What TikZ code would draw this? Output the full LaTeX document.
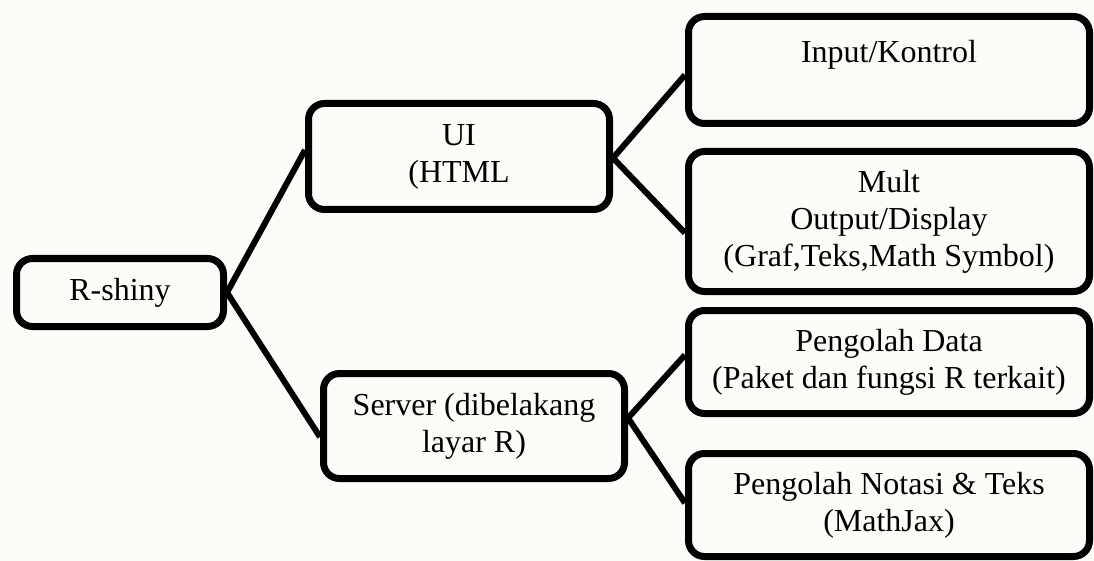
\documentclass[tikz,border=0pt]{standalone}
\usepackage{fontspec}
\setmainfont{Liberation Serif}
\definecolor{bgcol}{RGB}{252,252,248}
\begin{document}
\begin{tikzpicture}[x=1pt,y=-1pt,
  box/.style={draw=black, line width=7pt, rounded corners=16pt, align=center,
    inner sep=0pt, font=\fontsize{32}{37}\selectfont},
  link/.style={draw=black, line width=6pt}]
\fill[bgcol] (0,0) rectangle (1094,561);
\useasboundingbox (0,0) rectangle (1094,561);
\node[box, minimum width=207pt, minimum height=68pt] (rs) at (120,292.5) {R-shiny};
\node[box, minimum width=301pt, minimum height=106pt] (ui) at (459,156.5) {UI\\(HTML};
\node[box, minimum width=301pt, minimum height=105pt] (srv) at (474,426) {Server (dibelakang\\layar R)};
\node[box, minimum width=401pt, minimum height=107pt] (inp) at (889,70) {Input/Kontrol\\~};
\node[box, minimum width=401pt, minimum height=140pt] (mult) at (889,221.5) {Mult\\Output/Display\\(Graf,Teks,Math Symbol)};
\node[box, minimum width=401pt, minimum height=103pt] (pd) at (889,362) {Pengolah Data\\(Paket dan fungsi R terkait)};
\node[box, minimum width=401pt, minimum height=103pt] (pn) at (889,505) {Pengolah Notasi \& Teks\\(MathJax)};
\draw[link] (rs.east) -- ([yshift=6.5pt]ui.west);
\draw[link] (rs.east) -- ([yshift=-11pt]srv.west);
\draw[link] ([yshift=-1.5pt]ui.east) -- ([yshift=-5pt]inp.west);
\draw[link] ([yshift=-1.5pt]ui.east) -- ([yshift=-11.5pt]mult.west);
\draw[link] ([yshift=8pt]srv.east) -- ([yshift=7pt]pd.west);
\draw[link] ([yshift=8pt]srv.east) -- ([yshift=2pt]pn.west);
\end{tikzpicture}
\end{document}
